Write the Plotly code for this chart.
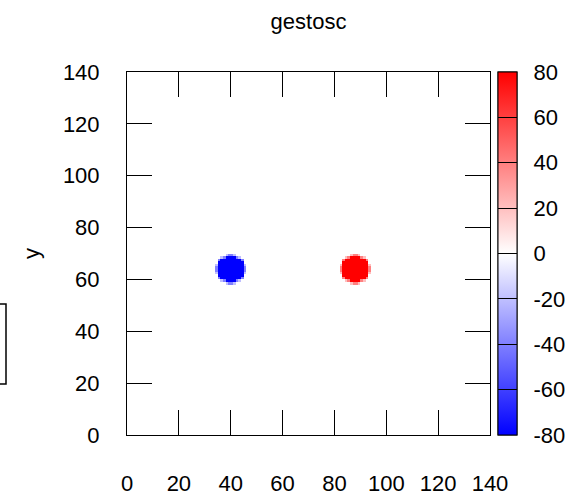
import numpy as np
import plotly.graph_objects as go

# ---- data ----
title_text = "gestosc"
grid_n = 140
x_ticks = [0, 20, 40, 60, 80, 100, 120, 140]
y_ticks = [0, 20, 40, 60, 80, 100, 120, 140]
cb_ticks = [-80, -60, -40, -20, 0, 20, 40, 60, 80]
cb_labels = ["-80", "-60", "-40", "-20", "0", "20", "40", "60", "80"]
blob_centers_x = [40, 88]
blob_centers_y = [64, 64]
blob_peaks = [-80, 80]
# blob footprint: '#' full, '+' half, '-' quarter
blob_stamp = [
    "....-++-....",
    "..-+####+-..",
    ".+########+.",
    ".##########.",
    "-##########-",
    "+##########+",
    "+##########+",
    "-##########-",
    ".##########.",
    ".+########+.",
    "..-+####+-..",
    "....-++-....",
]
stamp_levels = {"#": 1.0, "+": 0.5, "-": 0.25, ".": 0.0}

# ---- build field ----
z = np.zeros((grid_n, grid_n))
h = len(blob_stamp)
w = len(blob_stamp[0])
for cx, cy, pk in zip(blob_centers_x, blob_centers_y, blob_peaks):
    for r, row in enumerate(blob_stamp):
        for c, ch in enumerate(row):
            yi = cy - h // 2 + (h - 1 - r)
            xi = cx - w // 2 + c
            z[yi, xi] = pk * stamp_levels[ch]

FONT = "Liberation Sans, Arial, sans-serif"
FS = 22
CSCALE = [[0, "rgb(0,0,255)"], [0.5, "rgb(255,255,255)"], [1, "rgb(255,0,0)"]]

cb_base = dict(
    x=(498 - 127) / 363, xanchor="left", y=0.5, yanchor="middle",
    len=1.0, lenmode="fraction", thickness=19, thicknessmode="pixels",
    outlinecolor="black", outlinewidth=1, xpad=0, ypad=0,
    tickvals=cb_ticks, ticktext=cb_labels,
    tickfont=dict(family=FONT, size=FS, color="black"),
)

# labelled colour bar (invisible outside ticks just for spacing)
cb_labelled = dict(cb_base, ticks="outside", ticklen=12, tickcolor="rgba(0,0,0,0)")
# unlabelled colour bar on top, carrying the inside tick lines
cb_lines = dict(cb_base, ticks="inside", ticklen=19, tickwidth=1, tickcolor="black",
                showticklabels=False)

fig = go.Figure()
fig.add_trace(go.Heatmap(
    z=z, x0=0.5, dx=1, y0=0.5, dy=1, zmin=-80, zmax=80, zsmooth=False,
    colorscale=CSCALE, colorbar=cb_labelled, hoverinfo="skip",
))
fig.add_trace(go.Heatmap(
    z=z, x0=0.5, dx=1, y0=0.5, dy=1, zmin=-80, zmax=80, zsmooth=False,
    colorscale=CSCALE, colorbar=cb_lines, hoverinfo="skip",
))

axis_common = dict(
    range=[0, 140], showgrid=False, zeroline=False, automargin=False,
    showline=True, linecolor="black", linewidth=1, mirror="ticks",
    ticks="inside", ticklen=25, tickwidth=1, tickcolor="black",
    tickfont=dict(family=FONT, size=FS, color="black"),
)

fig.update_layout(
    width=584, height=500, autosize=False,
    margin=dict(l=127, r=94, t=72, b=65, pad=0),
    paper_bgcolor="white", plot_bgcolor="white",
    title=dict(text=title_text, x=308.5 / 584, xanchor="center", y=1 - 21 / 500, yanchor="middle",
               font=dict(family=FONT, size=FS, color="black")),
    xaxis=dict(tickvals=x_ticks, ticklabelstandoff=29, **axis_common),
    yaxis=dict(tickvals=y_ticks, ticklabelstandoff=22,
               title=dict(text="y", standoff=17, font=dict(family=FONT, size=FS, color="black")),
               **axis_common),
    shapes=[dict(type="rect", xref="paper", yref="paper",
                 x0=-0.36, x1=(6 - 127) / 363, y0=(435 - 384) / 363, y1=(435 - 304) / 363,
                 line=dict(color="black", width=1.5), fillcolor="rgba(0,0,0,0)")],
)

fig.write_html("out.html")
